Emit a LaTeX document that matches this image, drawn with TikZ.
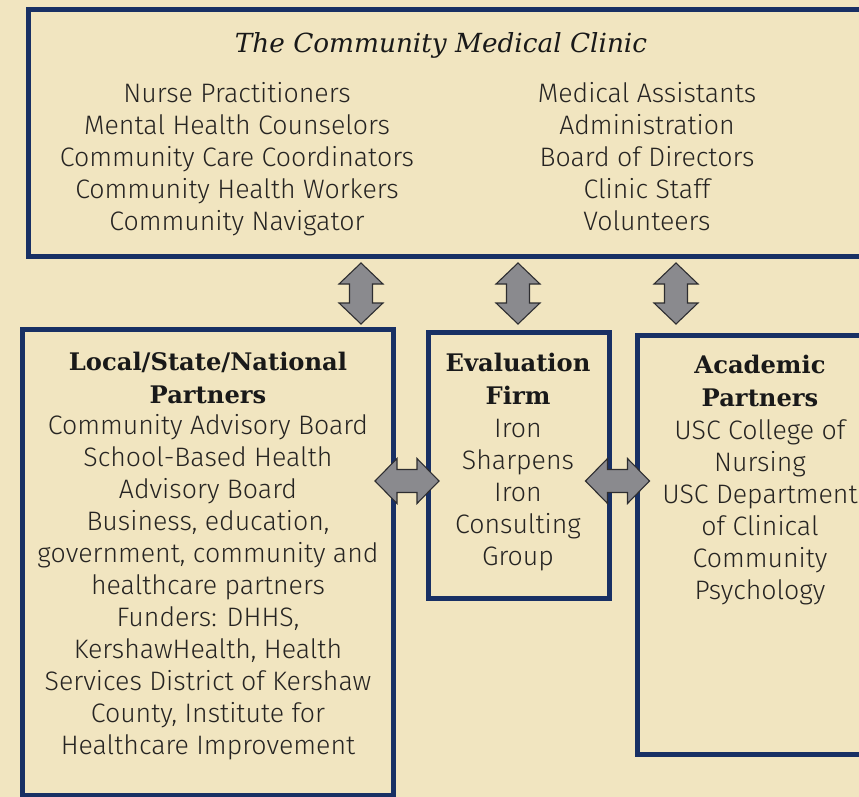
\documentclass[tikz,border=0pt]{standalone}
\usepackage{fontspec}
\setmainfont{Fira Sans}[UprightFont={* Light}]
\newfontfamily\headfont{DejaVu Serif}
\definecolor{parch}{RGB}{241,229,192}
\definecolor{navy}{RGB}{24,48,100}
\definecolor{arrfill}{RGB}{138,138,142}
\definecolor{arrline}{RGB}{45,45,48}
\definecolor{bodytxt}{RGB}{38,36,34}
\tikzset{
  frame/.style={draw=navy, line width=5pt},
  arr/.style={fill=arrfill, draw=arrline, line width=1.1pt, line join=miter},
  body/.style={align=center, inner sep=0pt, text=bodytxt, font=\fontsize{26.7}{32}\selectfont},
  head/.style={align=center, inner sep=0pt, text=black!90, font=\headfont\bfseries\fontsize{24.2}{33}\selectfont},
  vda/.pic={\draw[arr] (0,-30.5) -- (22,-9.5) -- (11.5,-9.5) -- (11.5,9.5) -- (22,9.5) -- (0,30.5) -- (-22,9.5) -- (-11.5,9.5) -- (-11.5,-9.5) -- (-22,-9.5) -- cycle;},
  hda/.pic={\draw[arr] (-32,0) -- (-10,-22.5) -- (-10,-11.5) -- (10,-11.5) -- (10,-22.5) -- (32,0) -- (10,22.5) -- (10,11.5) -- (-10,11.5) -- (-10,22.5) -- cycle;}
}
\begin{document}
\begin{tikzpicture}[x=1pt,y=-1pt]
\fill[parch] (0,0) rectangle (859,797);
\useasboundingbox (0,0) rectangle (859,797);
\clip (0,0) rectangle (859,797);
% boxes
\draw[frame] (28,10) rectangle (900,256);
\draw[frame] (22,329) rectangle (393,795);
\draw[frame] (428,332) rectangle (609,598);
\draw[frame] (637,335) rectangle (900,754);
% top box text
\node[inner sep=0pt, text=black!90, font=\headfont\itshape\fontsize{26.3}{30}\selectfont] (title) at (441,45) {The Community Medical Clinic};
\node[body] (staffL) at (237,159) {Nurse Practitioners\\Mental Health Counselors\\Community Care Coordinators\\Community Health Workers\\Community Navigator};
\node[body] (staffR) at (647,157) {Medical Assistants\\Administration\\Board of Directors\\Clinic Staff\\Volunteers};
% left box
\node[head] (lhead) at (208,377.5) {Local/State/National\\Partners};
\node[body] (lbody) at (208,587) {Community Advisory Board\\School-Based Health\\Advisory Board\\Business, education,\\government, community and\\healthcare partners\\Funders: DHHS,\\KershawHealth, Health\\Services District of Kershaw\\County, Institute for\\Healthcare Improvement};
% middle box
\node[head] (mhead) at (518,379) {Evaluation\\Firm};
\node[body] (mbody) at (518,495) {Iron\\Sharpens\\Iron\\Consulting\\Group};
% right box
\node[head] (rhead) at (760,381) {Academic\\Partners};
\node[body] (rbody) at (760,512) {USC College of\\Nursing\\USC Department\\of Clinical\\Community\\Psychology};
% arrows
\pic (a1) at (361,293.5) {vda};
\pic (a2) at (518,293.5) {vda};
\pic (a3) at (676,293.5) {vda};
\pic (a4) at (407,481) {hda};
\pic (a5) at (617.5,481) {hda};
\end{tikzpicture}
\end{document}
